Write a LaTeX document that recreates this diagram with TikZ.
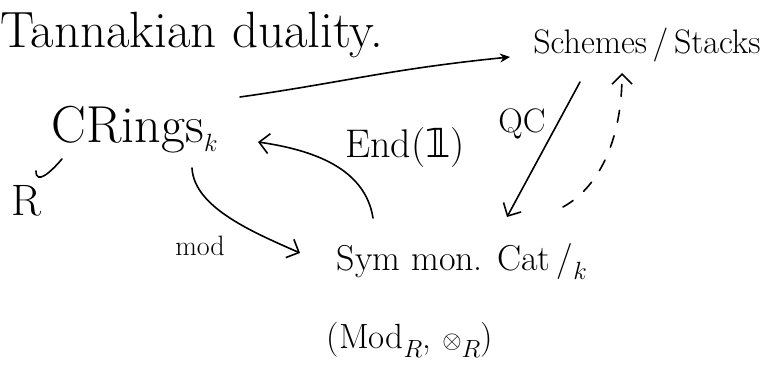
\documentclass[tikz,border=0pt]{standalone}
\usepackage{fontspec}
\newfontfamily\dejavu{DejaVu Sans}
\usetikzlibrary{arrows.meta,calc}
\begin{document}
\begin{tikzpicture}[x=1pt,y=1pt,
  ink/.style={line width=1.6pt,line cap=round,line join=round},
  barb/.style={-{Straight Barb[length=10pt,width=20pt,line width=1.6pt]}},
  lbl/.style={inner sep=1pt}]
\useasboundingbox (0,0) rectangle (767,374);

% objects
\node[lbl,font=\fontsize{51}{55}\selectfont] (title) at (192,339) {Tannakian duality.};
\node[lbl,font=\fontsize{52}{56}\selectfont] (crings) at (135,244) {CRings$_k$};
\node[lbl,font=\fontsize{44}{48}\selectfont] (r) at (26,173) {R};
\node[lbl,font=\fontsize{34}{38}\selectfont] (schemes) at (647,329) {Schemes\,/\,Stacks};
\node[lbl,font=\fontsize{40}{44}\selectfont] (end) at (405,226) {End({\dejavu 𝟙})};
\node[lbl,font=\fontsize{34}{38}\selectfont] (qc) at (522,250) {QC};
\node[lbl,font=\fontsize{36}{40}\selectfont] (sym) at (462,112) {Sym mon. Cat\,/$_k$};
\node[lbl,font=\fontsize{35}{39}\selectfont] (modr) at (410,34) {(Mod$_R$, $\otimes_R$)};
\node[lbl,font=\fontsize{28}{32}\selectfont] (modlbl) at (200,128) {mod};

% hook beside R
\draw[ink] ($(r)+(10,30)$) .. controls +(0,-14) and +(-12,-14) .. ++(26,12);

% Spec-type functor to schemes
\draw[ink,-{Stealth[length=10pt,width=9pt]}] ($(crings)+(105,33)$) .. controls +(100,14) and +(-120,-12) .. ($(schemes)+(-137,-12)$);

% QC down to symmetric monoidal categories
\draw[ink,barb] ($(schemes)+(-67,-37)$) -- ($(sym)+(45,45)$);

% dashed reconstruction back up
\draw[ink,dash pattern=on 12pt off 14pt,barb] ($(sym)+(101,55)$) .. controls +(40,22) and +(0,-60) .. ($(schemes)+(-25,-28)$);

% Mod functor
\draw[ink,barb] ($(crings)+(57,-38)$) .. controls +(2,-40) and +(-45,20) .. ($(sym)+(-162,9)$);

% End of the unit back to rings
\draw[ink,barb] ($(sym)+(-89,44)$) .. controls +(-8,50) and +(55,-8) .. ($(crings)+(123,-12)$);
\end{tikzpicture}
\end{document}
